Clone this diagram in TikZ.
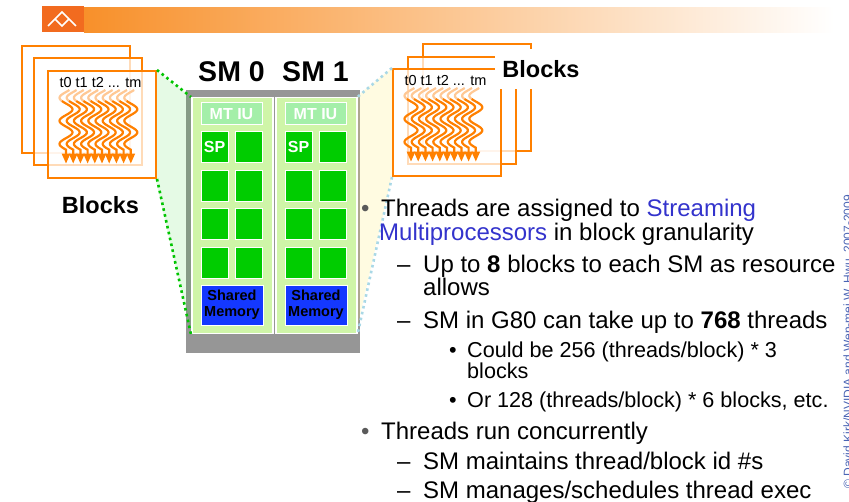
\documentclass[tikz,border=0pt]{standalone}
\usepackage{fontspec}
\setmainfont{Liberation Sans}
\usetikzlibrary{arrows.meta,positioning,calc}
\definecolor{barorange}{HTML}{F8902A}
\definecolor{logoorange}{HTML}{F26B1F}
\definecolor{blockorange}{HTML}{FF8000}
\definecolor{threadfade}{HTML}{FFC894}
\definecolor{casegray}{HTML}{969696}
\definecolor{panelgreen}{HTML}{CFF5A8}
\definecolor{mtgreen}{HTML}{A4EFA9}
\definecolor{spgreen}{HTML}{00CC00}
\definecolor{shmblue}{HTML}{1438FF}
\definecolor{linkgreen}{HTML}{00C400}
\definecolor{linkblue}{HTML}{A9D8E6}
\definecolor{fanyellow}{HTML}{FFEB78}
\definecolor{smblue}{HTML}{3333CC}
\definecolor{bulletgray}{HTML}{5A5A5A}
\definecolor{notice}{HTML}{4A64B4}
\newcommand{\fsz}[2]{\fontsize{#1pt}{#2pt}\selectfont}
\tikzset{
  blockframe/.style={draw=blockorange, line width=2pt, fill=white, inner sep=0pt,
                     minimum width=108pt, minimum height=107pt, anchor=north west},
  frontframe/.style={blockframe, fill opacity=.72},
  tlabel/.style={font=\fsz{14.5}{15}, inner sep=0pt},
  blocklabel/.style={font=\bfseries\fsz{23.5}{24}, inner sep=0pt},
  thread/.style={draw=blockorange, line width=2.2pt, -{Triangle[length=10pt, width=8pt]}},
  threadtop/.style={draw=threadfade, line width=2.2pt},
  smcase/.style={fill=casegray, inner sep=0pt, minimum width=174pt, minimum height=263pt,
                 anchor=north west},
  smpanel/.style={fill=panelgreen, draw=white, line width=1.5pt, inner sep=0pt,
                  minimum width=81pt, minimum height=236pt, anchor=north west},
  mtbox/.style={fill=mtgreen, draw=white, line width=1pt, inner sep=0pt, minimum width=61pt,
                minimum height=22pt, text=white, font=\bfseries\fsz{16}{16}},
  spcell/.style={fill=spgreen, draw=white, line width=.8pt, inner sep=0pt, minimum width=27pt,
                 minimum height=31pt, text=white, font=\bfseries\fsz{16}{16}},
  shmbox/.style={fill=shmblue, draw=white, line width=.8pt, inner sep=0pt, minimum width=62pt,
                 minimum height=40pt, align=center, font=\bfseries\fsz{14.5}{16}},
  smtitle/.style={font=\bfseries\fsz{28.5}{29}, inner sep=0pt},
  greenlink/.style={draw=linkgreen, line width=2.6pt, dash pattern=on 2.6pt off 3.4pt},
  bluelink/.style={draw=linkblue, line width=2.6pt, dash pattern=on 2.6pt off 3.4pt},
  itemtext/.style={anchor=base west, inner sep=0pt, font=\fsz{24}{24}},
  subitemtext/.style={itemtext, font=\fsz{21.6}{22}},
  itemmark/.style={itemtext, text=bulletgray},
}

\begin{document}
\begin{tikzpicture}[x=1pt, y=-1pt]
\useasboundingbox (0,0) rectangle (849,502);

% title bar
\node[fill=logoorange, inner sep=0pt, minimum width=42pt, minimum height=26pt,
      anchor=north west] (logo) at (42,6) {};
\node[left color=barorange, right color=white, inner sep=0pt, minimum width=750pt,
      minimum height=25pt, anchor=north west] (bar) at (84,7) {};
\begin{scope}[shift={(logo.north west)}]
  \draw[white, line width=1.5pt, line join=miter]
    (6,20) -- (13,13) -- (20,20) -- (27,13) -- (34,20)
    (13,13) -- (20,6) -- (27,13);
\end{scope}

% SM case and the two multiprocessors
\node[smcase] (smcase) at (186,90) {};
\fill[fill=spgreen, fill opacity=.1] (155,70) -- (191,97) -- (191,333) -- (155,177) -- cycle;
\fill[fill=fanyellow, fill opacity=.22] (392,68) -- (356,97) -- (356,333) -- (392,175) -- cycle;

\foreach \s/\dx in {0/0, 1/84} {
  \node[smpanel] (sm\s) at (191+\dx,97) {};
  \node[smtitle] (smt\s) at (231.5+\dx,72) {SM \s};
  \node[mtbox] (mt\s) at (231.5+\dx,114) {MT IU};
  \foreach \r in {0,...,3} {
    \node[spcell] (sp\s-\r-0) at (214.5+\dx,147+38.7*\r) {};
    \node[spcell] (sp\s-\r-1) at (249+\dx,147+38.7*\r) {};
  }
  \node[shmbox] (shm\s) at (232+\dx,305) {Shared\\Memory};
}
\node[spcell] (sp0lbl) at (sp0-0-0) {SP};
\node[spcell] (sp1lbl) at (sp1-0-0) {SP};

% thread blocks, left and right stacks
\node[blockframe] (lback) at (21,45) {};
\node[frontframe] (lmid) at (33,57) {};
\node[frontframe] (lfront) at (47,70) {};
\node[blockframe] (rback) at (422,43) {};
\node[frontframe] (rmid) at (407,56) {};
\node[frontframe] (rfront) at (392,68) {};

% one squiggle per thread, faded where it starts
\foreach \f in {lfront, rfront} {
  \node[tlabel] (\f-t) at ($(\f.north west)+(53.5,12.5)$) {t0 t1 t2 ... tm};
  \begin{scope}[shift={(\f.north west)}]
    \foreach \i in {0,...,9} {
      \draw[threadtop] plot[domain=-2:9, samples=12, smooth]
        ({19+7.2*\i-6.5*sin(15.6*\x)}, {22+\x});
      \draw[thread] plot[domain=9:57.7, samples=50, smooth]
        ({19+7.2*\i-6.5*sin(15.6*\x)}, {22+\x}) -- ++(0,14);
    }
  \end{scope}
}

\node[blocklabel] (lblocks) at (100.5,205) {Blocks};
\node[blocklabel, fill=white, minimum width=92pt, minimum height=40pt] (rblocks)
  at (541,69) {Blocks};

% links from the blocks to the SMs
\draw[greenlink] (lfront.north east) -- (sm0.north west);
\draw[greenlink] (lfront.south east) -- (sm0.south west);
\draw[bluelink] (rfront.north west) -- (sm1.north east);
\draw[bluelink] (rfront.south west) -- (sm1.south east);

% bullet text
\node[itemmark] (b1) at (361,217) {•};
\node[itemtext] (l1) at (381,217) {Threads are assigned to \textcolor{smblue}{Streaming}};
\node[itemtext] (l2) at (379,240.7) {\textcolor{smblue}{Multiprocessors} in block granularity};
\node[itemtext] (d1) at (397,272.3) {–};
\node[itemtext] (l3) at (423,272.3) {Up to \textbf{8} blocks to each SM as resource};
\node[itemtext] (l4) at (423,296) {allows};
\node[itemtext] (d2) at (397,328.3) {–};
\node[itemtext] (l5) at (423,328.3) {SM in G80 can take up to \textbf{768} threads};
\node[subitemtext] (s1) at (449,357.7) {•};
\node[subitemtext] (l6) at (467,357.7) {Could be 256 (threads/block) * 3};
\node[subitemtext] (l7) at (467,379) {blocks};
\node[subitemtext] (s2) at (449,407.7) {•};
\node[subitemtext] (l8) at (467,407.7) {Or 128 (threads/block) * 6 blocks, etc.};
\node[itemmark] (b2) at (361,439.3) {•};
\node[itemtext] (l9) at (381,439.3) {Threads run concurrently};
\node[itemtext] (d3) at (397,469.3) {–};
\node[itemtext] (l10) at (423,469.3) {SM maintains thread/block id \#s};
\node[itemtext] (d4) at (397,498.3) {–};
\node[itemtext] (l11) at (423,498.3) {SM manages/schedules thread exec};

% copyright along the right edge, mostly off the page
\node[rotate=90, anchor=base east, inner sep=0pt, text=notice, font=\fsz{12}{12}] (copy)
  at (852,195) {© David Kirk/NVIDIA and Wen-mei W. Hwu, 2007-2009};

\end{tikzpicture}
\end{document}
